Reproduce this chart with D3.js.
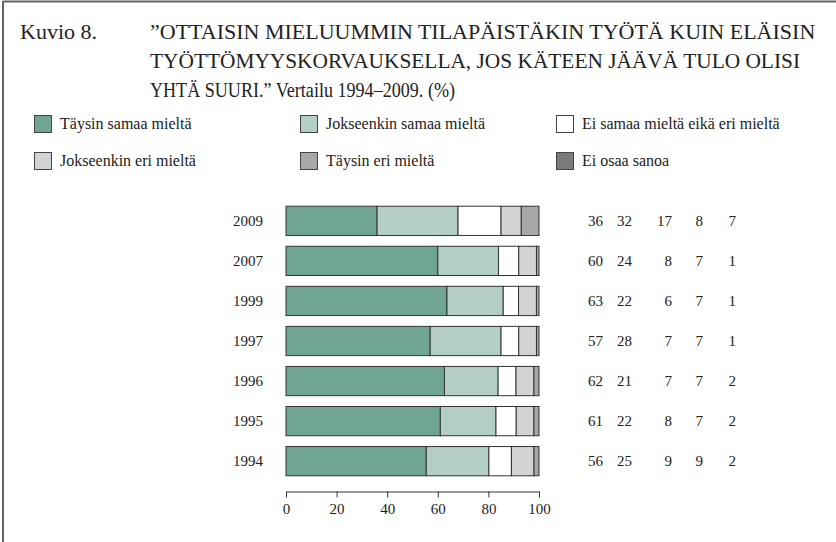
<!DOCTYPE html>
<html>
<head>
<meta charset="utf-8">
<script src="https://cdn.jsdelivr.net/npm/d3@7"></script>
<style>
body { margin: 0; background: #fff; }
</style>
</head>
<body>
<div id="chart"></div>
<script>
var WIDTH = 836;
var HEIGHT = 542;
var FONT = '"Liberation Serif", "DejaVu Serif", serif';

var years = ['2009', '2007', '1999', '1997', '1996', '1995', '1994'];
var series = ['Täysin samaa mieltä', 'Jokseenkin samaa mieltä', 'Ei samaa mieltä eikä eri mieltä',
	'Jokseenkin eri mieltä', 'Täysin eri mieltä', 'Ei osaa sanoa'];
var colors = ['#70a591', '#b3cec4', '#ffffff', '#d3d3d5', '#a8a8aa', '#7b7b7d'];

var taysinSamaa = [36, 60, 63, 57, 62, 61, 56];
var jokseenkinSamaa = [32, 24, 22, 28, 21, 22, 25];
var eiSamaaEikaEri = [17, 8, 6, 7, 7, 8, 9];
var jokseenkinEri = [8, 7, 7, 7, 7, 7, 9];
var taysinEri = [7, 1, 1, 1, 2, 2, 2];
var eiOsaa = [0, 0, 0, 0, 0, 0, 0];

var xTicks = [0, 20, 40, 60, 80, 100];

var titleLines = [
	'\u201dOTTAISIN MIELUUMMIN TILAPÄISTÄKIN TYÖTÄ KUIN ELÄISIN',
	'TYÖTTÖMYYSKORVAUKSELLA, JOS KÄTEEN JÄÄVÄ TULO OLISI',
	'YHTÄ SUURI.\u201d Vertailu 1994\u20132009. (%)'
];
var titleWidths = [null, 650, 305];

var svg = d3.select('#chart').append('svg')
	.attr('width', WIDTH)
	.attr('height', HEIGHT)
	.style('font-family', FONT);

// frame
svg.append('line').attr('x1', 3).attr('x2', WIDTH).attr('y1', 1.5).attr('y2', 1.5)
	.attr('stroke', '#666').attr('stroke-width', 2);
svg.append('line').attr('x1', 3).attr('x2', 3).attr('y1', 1).attr('y2', HEIGHT)
	.attr('stroke', '#666').attr('stroke-width', 2);

// title
svg.append('text').attr('x', 20).attr('y', 39).attr('font-size', 22)
	.attr('fill', '#222')
	.text('Kuvio 8.');
titleLines.forEach(function(t, i) {
	var tt = svg.append('text')
		.attr('x', 150)
		.attr('y', 39 + i * 29)
		.attr('font-size', 22)
		.attr('fill', '#222')
		.text(t);
	if (titleWidths[i]) {
		tt.attr('textLength', titleWidths[i]).attr('lengthAdjust', 'spacingAndGlyphs');
	}
});

// legend
var legend = svg.append('g');
series.forEach(function(s, i) {
	var col = i % 3, row = Math.floor(i / 3);
	var lx = [34, 300, 556][col];
	var ly = 115 + row * 37;
	legend.append('rect')
		.attr('x', lx + 0.5).attr('y', ly + 0.5)
		.attr('width', 17).attr('height', 17)
		.attr('fill', colors[i])
		.attr('stroke', '#444');
	legend.append('text')
		.attr('x', lx + 26).attr('y', ly + 14)
		.attr('font-size', 16)
		.attr('fill', '#222')
		.text(s);
});

// data table
var data = years.map(function(y, i) {
	return {
		year: y,
		values: [taysinSamaa[i], jokseenkinSamaa[i], eiSamaaEikaEri[i], jokseenkinEri[i], taysinEri[i], eiOsaa[i]]
	};
});

var x = d3.scaleLinear().domain([0, 100]).range([286, 539]);
var y = d3.scaleBand().domain(years).range([201, 481]).paddingInner(0.27).paddingOuter(0.13);

// bars are shown as shares of 100 %
var stack = d3.stack().keys(d3.range(series.length))
	.value(function(d, k) { return d.values[k]; })
	.offset(d3.stackOffsetExpand);
var layers = stack(data);

svg.append('g').selectAll('g')
	.data(layers)
	.join('g')
	.attr('fill', function(d, i) { return colors[i]; })
	.selectAll('rect')
	.data(function(d) { return d; })
	.join('rect')
	.attr('x', function(d) { return x(d[0] * 100); })
	.attr('y', function(d) { return y(d.data.year); })
	.attr('width', function(d) { return x(d[1] * 100) - x(d[0] * 100); })
	.attr('height', y.bandwidth())
	.attr('stroke', '#333')
	.attr('stroke-width', 1);

// year labels
svg.append('g').selectAll('text')
	.data(years)
	.join('text')
	.attr('x', 263)
	.attr('y', function(d) { return y(d) + y.bandwidth() / 2 + 5; })
	.attr('text-anchor', 'end')
	.attr('font-size', 15)
	.attr('fill', '#222')
	.text(function(d) { return d; });

// value columns
var colRight = [603, 632, 672, 703, 736];
data.forEach(function(d) {
	colRight.forEach(function(cx, k) {
		svg.append('text')
			.attr('x', cx)
			.attr('y', y(d.year) + y.bandwidth() / 2 + 5)
			.attr('text-anchor', 'end')
			.attr('font-size', 15)
			.attr('fill', '#222')
			.text(d.values[k]);
	});
});

// x axis
var axis = svg.append('g')
	.attr('transform', 'translate(0,491.5)')
	.call(d3.axisBottom(x).tickValues(xTicks).tickSize(6).tickSizeOuter(0).tickPadding(6));
axis.attr('font-family', FONT);
axis.select('.domain').attr('stroke', '#333');
axis.selectAll('.tick line').attr('stroke', '#333');
axis.selectAll('.tick text')
	.attr('font-size', 15)
	.attr('fill', '#222');
</script>
</body>
</html>
